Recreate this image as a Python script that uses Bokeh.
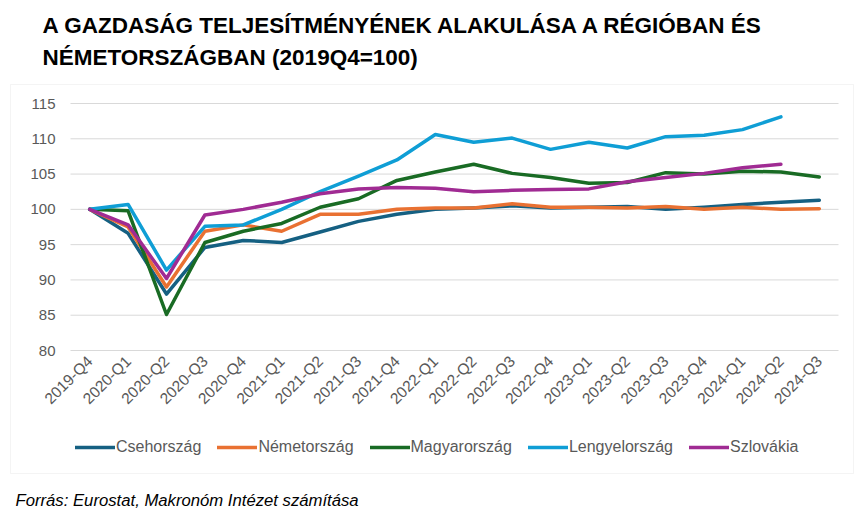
import math
from bokeh.plotting import figure
from bokeh.models import (Range1d, FixedTicker, Label, Legend, LegendItem,
                          BoxAnnotation, LinearAxis)
from bokeh.embed import file_html
from bokeh.resources import INLINE

quarters = ["2019-Q4", "2020-Q1", "2020-Q2", "2020-Q3", "2020-Q4",
            "2021-Q1", "2021-Q2", "2021-Q3", "2021-Q4",
            "2022-Q1", "2022-Q2", "2022-Q3", "2022-Q4",
            "2023-Q1", "2023-Q2", "2023-Q3", "2023-Q4",
            "2024-Q1", "2024-Q2", "2024-Q3"]

cz = [100.0, 96.6, 88.0, 94.6, 95.6, 95.3, 96.8, 98.3, 99.3, 100.0,
      100.2, 100.5, 100.2, 100.3, 100.4, 100.0, 100.3, 100.7, 101.0, 101.3]
de = [100.0, 97.5, 89.0, 96.9, 97.8, 96.9, 99.3, 99.3, 100.0, 100.2,
      100.2, 100.8, 100.3, 100.3, 100.2, 100.4, 100.0, 100.3, 100.0, 100.1]
hu = [100.0, 99.8, 85.1, 95.3, 96.9, 98.0, 100.3, 101.5, 104.1, 105.3,
      106.4, 105.1, 104.5, 103.7, 103.8, 105.2, 105.0, 105.4, 105.3, 104.6]
pl = [100.0, 100.7, 91.4, 97.6, 97.8, 100.0, 102.5, 104.7, 107.0, 110.6,
      109.5, 110.1, 108.5, 109.5, 108.7, 110.3, 110.5, 111.3, 113.1]
sk = [100.0, 97.8, 90.2, 99.2, 100.0, 101.0, 102.2, 102.9, 103.1, 103.0,
      102.5, 102.7, 102.8, 102.9, 103.9, 104.5, 105.1, 105.9, 106.4]

series_names = ["Csehország", "Németország", "Magyarország", "Lengyelország", "Szlovákia"]
series_vals = [cz, de, hu, pl, sk]
series_colors = ["#156082", "#E97132", "#196B24", "#0F9ED5", "#A02B93"]
y_ticks = [80, 85, 90, 95, 100, 105, 110, 115]

title1 = "A GAZDASÁG TELJESÍTMÉNYÉNEK ALAKULÁSA A RÉGIÓBAN ÉS"
title2 = "NÉMETORSZÁGBAN (2019Q4=100)"
footer = "Forrás: Eurostat, Makronóm Intézet számítása"

FONT = "Liberation Sans"
GREY = "#595959"

# ---- layout (canvas pixels, origin top-left)
W, H = 858, 517
PLOT_L, PLOT_R = 70, 838      # horizontal extent of the plotting area
PLOT_T, PLOT_B = 103, 350     # vertical extent of the plotting area
n = len(quarters)
xi = list(range(n))
x_lo, x_hi = -0.5, n - 0.5
y_lo, y_hi = y_ticks[0], y_ticks[-1]
ppx = (PLOT_R - PLOT_L) / (x_hi - x_lo)
ppy = (PLOT_B - PLOT_T) / (y_hi - y_lo)

p = figure(width=W, height=H,
           x_range=Range1d(x_lo - PLOT_L / ppx, x_hi + (W - PLOT_R) / ppx),
           y_range=Range1d(y_lo - (H - PLOT_B) / ppy, y_hi + PLOT_T / ppy),
           x_axis_location=None, y_axis_location=None,
           output_backend="svg", toolbar_location=None, min_border=0)
p.title.visible = False
p.outline_line_color = None
p.grid.visible = False

# outer box
p.add_layout(BoxAnnotation(left=10, right=853, top=H - 84, bottom=H - 473,
                           left_units="screen", right_units="screen",
                           top_units="screen", bottom_units="screen",
                           fill_alpha=0, line_color="#D9D9D9", line_width=1))

# horizontal gridlines across the plotting area
p.segment(x0=[x_lo] * len(y_ticks), x1=[x_hi] * len(y_ticks), y0=y_ticks, y1=y_ticks,
          line_color="#D9D9D9", line_width=1)

yaxis = LinearAxis(fixed_location=x_lo, ticker=FixedTicker(ticks=y_ticks))
yaxis.axis_line_color = None
yaxis.major_tick_line_color = None
yaxis.minor_tick_line_color = None
yaxis.major_tick_out = 0
yaxis.major_label_standoff = 15
yaxis.major_label_text_font = FONT
yaxis.major_label_text_font_size = "15px"
yaxis.major_label_text_color = GREY
p.add_layout(yaxis, "left")

xaxis = LinearAxis(fixed_location=y_lo, ticker=FixedTicker(ticks=xi),
                   major_label_overrides={i: q for i, q in zip(xi, quarters)})
xaxis.axis_line_color = None
xaxis.major_tick_line_color = None
xaxis.minor_tick_line_color = None
xaxis.major_tick_out = 0
xaxis.major_label_orientation = math.pi / 4
xaxis.major_label_standoff = 8
xaxis.major_label_text_font = FONT
xaxis.major_label_text_font_size = "15.5px"
xaxis.major_label_text_color = GREY
p.add_layout(xaxis, "below")

items = []
for name, vals, col in zip(series_names, series_vals, series_colors):
    r = p.line(x=xi[:len(vals)], y=vals, line_color=col, line_width=3.5,
               line_join="round", line_cap="round")
    items.append(LegendItem(label=name, renderers=[r]))

legend = Legend(items=items, orientation="horizontal", location=(75, H - 457),
                glyph_width=40, glyph_height=20, label_standoff=1, spacing=16,
                padding=0, margin=0, border_line_color=None,
                background_fill_alpha=0, label_text_font=FONT,
                label_text_font_size="16px", label_text_color=GREY)
p.add_layout(legend, "center")

p.add_layout(Label(x=42, y=H - 25, x_units="screen", y_units="screen", text=title1,
                   text_font=FONT, text_font_size="22.5px", text_font_style="bold",
                   text_color="black", text_baseline="middle"))
p.add_layout(Label(x=42, y=H - 57, x_units="screen", y_units="screen", text=title2,
                   text_font=FONT, text_font_size="22.5px", text_font_style="bold",
                   text_color="black", text_baseline="middle"))
p.add_layout(Label(x=15, y=H - 500, x_units="screen", y_units="screen", text=footer,
                   text_font=FONT, text_font_size="16.7px", text_font_style="italic",
                   text_color="black", text_baseline="middle"))

open("out.html", "w").write(file_html(p, INLINE))
